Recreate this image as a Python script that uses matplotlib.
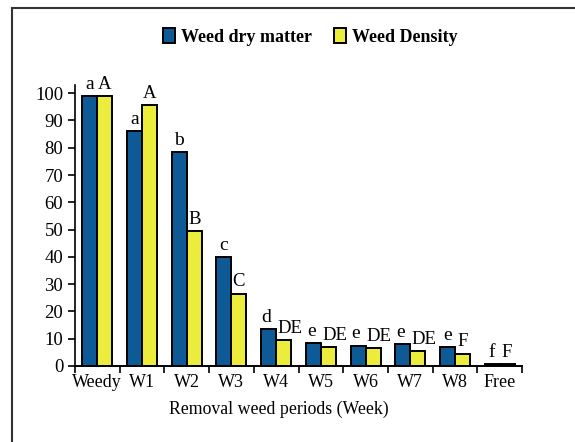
import matplotlib.pyplot as plt
from matplotlib.patches import Rectangle
import numpy as np

categories = ["Weedy", "W1", "W2", "W3", "W4", "W5", "W6", "W7", "W8", "Free"]
dry_matter = [99, 86, 78.5, 40, 13.5, 8.5, 7.5, 8, 7, 0.8]
density = [99, 95.5, 49.5, 26.5, 9.5, 7, 6.5, 5.5, 4.5, 0.8]
dry_letters = ["a", "a", "b", "c", "d", "e", "e", "e", "e", "f"]
dens_letters = ["A", "A", "B", "C", "DE", "DE", "DE", "DE", "F", "F"]

plt.rcParams['font.family'] = ['Liberation Serif', 'DejaVu Serif']

fig = plt.figure(figsize=(5.75, 4.42), dpi=100)
# frame around the figure (top and left edges visible in the original)
fig.patches.append(Rectangle((12 / 575, -0.1), 1.2, 1 - 8 / 442 + 0.1,
                             transform=fig.transFigure, fill=False,
                             edgecolor='#333333', linewidth=1.5))

ax = fig.add_axes([75 / 575, 1 - 366 / 442, 447 / 575, 281 / 442])

x = np.arange(len(categories))
w = 0.335
blue = '#0e5a96'
yellow = '#ecec3c'
ax.bar(x - w / 2, dry_matter, w, color=blue, edgecolor='black', linewidth=1.4,
       label='Weed dry matter')
ax.bar(x + w / 2, density, w, color=yellow, edgecolor='black', linewidth=1.4,
       label='Weed Density')

for i in range(len(categories)):
    two = len(dens_letters[i]) > 1
    ax.text(x[i] - w / 2 - (0.05 if two else 0), dry_matter[i] + 1.2,
            dry_letters[i], ha='center', va='bottom', fontsize=14)
    ax.text(x[i] + w / 2 + (0.14 if two else 0), density[i] + 1.2,
            dens_letters[i], ha='center', va='bottom', fontsize=13.5)

ax.set_xlim(-0.5, len(categories) - 0.5)
ax.set_ylim(0, 103)
ax.set_yticks(range(0, 101, 10))
ax.set_xticks(x)
ax.set_xticklabels(categories, fontsize=13)
ax.set_xticks(np.arange(-0.5, len(categories), 1), minor=True)
ax.tick_params(axis='x', which='major', length=0, pad=6)
ax.tick_params(axis='x', which='minor', length=5, width=1.2, direction='out')
ax.tick_params(axis='y', length=5, width=1.2, labelsize=13.5, direction='out')
ax.spines['top'].set_visible(False)
ax.spines['right'].set_visible(False)
ax.spines['left'].set_linewidth(1.2)
ax.spines['bottom'].set_linewidth(1.4)
ax.set_xlabel('Removal weed periods (Week)', fontsize=12.8)
ax.xaxis.set_label_coords(0.455, -0.125)

fig.legend(loc='center', bbox_to_anchor=(310 / 575, 1 - 37 / 442), ncol=2,
           frameon=False, prop={'weight': 'bold', 'size': 13},
           handlelength=0.7, handleheight=0.9, handletextpad=0.3,
           columnspacing=1.2)

plt.savefig('out.png', dpi=100)
